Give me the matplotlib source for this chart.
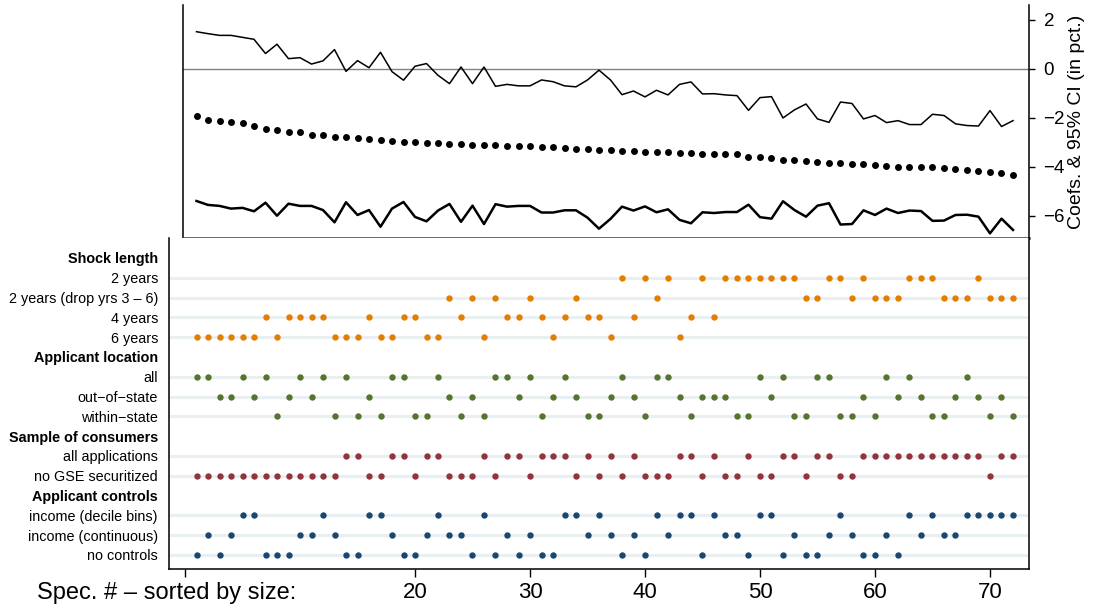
import numpy as np
import matplotlib.pyplot as plt

plt.rcParams['font.family'] = ['Liberation Sans', 'DejaVu Sans']

# specification curve: point estimates and 95% CI (in pct.)
spec = np.arange(1, 73)
coef = [-1.93, -2.07, -2.12, -2.18, -2.20, -2.33, -2.44, -2.49, -2.56, -2.57,
        -2.71, -2.71, -2.76, -2.79, -2.82, -2.84, -2.88, -2.93, -2.97, -2.99,
        -3.02, -3.02, -3.06, -3.08, -3.10, -3.12, -3.12, -3.13, -3.13, -3.14,
        -3.17, -3.20, -3.22, -3.25, -3.27, -3.29, -3.29, -3.33, -3.36, -3.37,
        -3.39, -3.40, -3.42, -3.44, -3.46, -3.47, -3.47, -3.47, -3.61, -3.61,
        -3.62, -3.70, -3.71, -3.74, -3.81, -3.82, -3.85, -3.86, -3.90, -3.93,
        -3.95, -3.99, -4.00, -4.00, -4.01, -4.03, -4.08, -4.12, -4.15, -4.20,
        -4.24, -4.34]
ci_hi = [1.52, 1.44, 1.37, 1.37, 1.29, 1.21, 0.63, 1.01, 0.42, 0.46,
         0.20, 0.33, 0.79, -0.10, 0.34, 0.05, 0.68, -0.11, -0.46, 0.11,
         0.22, -0.26, -0.60, 0.08, -0.60, 0.08, -0.71, -0.63, -0.69, -0.69,
         -0.45, -0.52, -0.69, -0.73, -0.45, -0.05, -0.45, -1.05, -0.90, -1.14,
         -0.87, -1.06, -0.63, -0.53, -1.02, -1.01, -1.06, -1.09, -1.69, -1.17,
         -1.13, -2.00, -1.67, -1.43, -2.04, -2.18, -1.35, -1.41, -2.04, -1.90,
         -2.19, -2.11, -2.27, -2.27, -1.85, -1.90, -2.24, -2.31, -2.33, -1.70,
         -2.35, -2.11]
ci_lo = [-5.39, -5.55, -5.59, -5.70, -5.67, -5.81, -5.46, -5.99, -5.50, -5.59,
         -5.59, -5.76, -6.26, -5.44, -5.96, -5.76, -6.44, -5.70, -5.43, -6.04,
         -6.22, -5.78, -5.51, -6.24, -5.58, -6.33, -5.52, -5.62, -5.59, -5.59,
         -5.86, -5.86, -5.77, -5.77, -6.07, -6.52, -6.12, -5.62, -5.78, -5.61,
         -5.85, -5.73, -6.16, -6.30, -5.85, -5.88, -5.84, -5.84, -5.54, -6.05,
         -6.11, -5.40, -5.76, -6.03, -5.58, -5.48, -6.35, -6.33, -5.77, -5.96,
         -5.70, -5.88, -5.78, -5.80, -6.20, -6.19, -5.96, -5.95, -6.03, -6.71,
         -6.11, -6.57]

# which specifications use which choice
shock_2y = [38, 40, 42, 45, 47, 48, 49, 50, 51, 52, 53, 56, 57, 59, 63, 64, 65, 69]
shock_2y_drop = [23, 25, 27, 30, 34, 41, 54, 55, 58, 60, 61, 62, 66, 67, 68, 70, 71, 72]
shock_4y = [7, 9, 10, 11, 12, 16, 19, 20, 24, 28, 29, 31, 33, 35, 36, 39, 44, 46]
shock_6y = [1, 2, 3, 4, 5, 6, 8, 13, 14, 15, 17, 18, 21, 22, 26, 32, 37, 43]

loc_all = [1, 2, 5, 7, 10, 12, 14, 18, 19, 22, 27, 28, 30, 33, 38, 41, 42, 50,
           52, 55, 56, 61, 63, 68]
loc_out = [3, 4, 6, 9, 11, 16, 23, 25, 29, 32, 34, 37, 39, 43, 45, 46, 47, 51,
           59, 62, 64, 67, 69, 71]
loc_within = [8, 13, 15, 17, 20, 21, 24, 26, 31, 35, 36, 40, 44, 48, 49, 53, 54,
              57, 58, 60, 65, 66, 70, 72]

sample_all = [14, 15, 18, 19, 21, 22, 26, 28, 29, 31, 32, 33, 35, 37, 39, 43, 44,
              46, 49, 52, 53, 55, 56, 59, 60, 61, 62, 63, 64, 65, 66, 67, 68, 69,
              71, 72]
sample_nogse = [1, 2, 3, 4, 5, 6, 7, 8, 9, 10, 11, 12, 13, 16, 17, 20, 23, 24, 25,
                27, 30, 34, 36, 38, 40, 41, 42, 45, 47, 48, 50, 51, 54, 57, 58, 70]

ctrl_decile = [5, 6, 12, 16, 17, 22, 26, 33, 34, 36, 41, 43, 44, 46, 50, 51, 57,
               63, 65, 68, 69, 70, 71, 72]
ctrl_cont = [2, 4, 10, 11, 13, 18, 21, 23, 24, 28, 30, 35, 37, 39, 42, 47, 48, 53,
             56, 58, 61, 64, 66, 67]
ctrl_none = [1, 3, 7, 8, 9, 14, 15, 19, 20, 25, 27, 29, 31, 32, 38, 40, 45, 49,
             52, 54, 55, 59, 60, 62]

groups = [
    ('Shock length', '#E37E00', [('2 years', shock_2y),
                                 ('2 years (drop yrs 3 \u2013 6)', shock_2y_drop),
                                 ('4 years', shock_4y),
                                 ('6 years', shock_6y)]),
    ('Applicant location', '#55752F', [('all', loc_all),
                                       ('out\u2212of\u2212state', loc_out),
                                       ('within\u2212state', loc_within)]),
    ('Sample of consumers', '#90353B', [('all applications', sample_all),
                                        ('no GSE securitized', sample_nogse)]),
    ('Applicant controls', '#1A476F', [('income (decile bins)', ctrl_decile),
                                       ('income (continuous)', ctrl_cont),
                                       ('no controls', ctrl_none)]),
]

W, H = 1094, 612
fig = plt.figure(figsize=(W / 100, H / 100), dpi=100)

def px2x(p):
    return (p - 196.5) / 11.5 + 1

# ---- top panel: coefficients ----
ax1 = fig.add_axes([183 / W, 1 - 238 / H, (1029 - 183) / W, (238 - 5) / H])
ax1.axhline(0, color='#808080', lw=1.0, zorder=1)
ax1.plot(spec, ci_hi, color='black', lw=1.1, zorder=2)
ax1.plot(spec, ci_lo, color='black', lw=1.8, zorder=2)
ax1.plot(spec, coef, 'o', color='black', ms=5, mec='none', zorder=3)
ax1.set_xlim(px2x(183), px2x(1029))
ax1.set_ylim(-6.9, 2.61)
ax1.set_xticks([])
ax1.yaxis.tick_right()
ax1.yaxis.set_label_position('right')
ax1.set_yticks([2, 0, -2, -4, -6])
ax1.tick_params(axis='y', length=4.5, width=1, pad=6, labelsize=13.5)
ax1.set_ylabel('Coefs. & 95% CI (in pct.)', fontsize=14, labelpad=2)
ax1.spines['top'].set_visible(False)
ax1.spines['bottom'].set_color('#1A476F')
ax1.spines['bottom'].set_linewidth(1.8)
for s in ['left', 'right']:
    ax1.spines[s].set_linewidth(1.1)

# ---- bottom panel: specification choices ----
ax2 = fig.add_axes([169 / W, 1 - 569 / H, (1029 - 169) / W, (569 - 238) / H])
labels, bold = [], []
row = 0
for head, color, opts in groups:
    labels.append(head)
    bold.append(True)
    row += 1
    for name, members in opts:
        ax2.axhline(row, color='#EAF0F2', lw=2.2, zorder=0)
        ax2.plot(members, [row] * len(members), 'o', color=color, ms=4.6,
                 mec='none', zorder=2)
        labels.append(name)
        bold.append(False)
        row += 1

ax2.set_xlim(px2x(169), px2x(1029))
ax2.set_ylim(15.71, -1.01)
ax2.set_yticks(range(len(labels)))
ax2.set_yticklabels(labels, fontsize=10.4)
for t, b in zip(ax2.get_yticklabels(), bold):
    if b:
        t.set_fontweight('bold')
ax2.tick_params(axis='y', length=0, pad=8)
ax2.set_xticks([0, 20, 30, 40, 50, 60, 70])
ax2.set_xticklabels(['', '20', '30', '40', '50', '60', '70'])
ax2.tick_params(axis='x', length=6, width=1, pad=3, labelsize=16)
ax2.spines['top'].set_visible(False)
for s in ['left', 'right', 'bottom']:
    ax2.spines[s].set_linewidth(1.1)

fig.text(37 / W, 1 - 593 / H, 'Spec. # \u2013 sorted by size:', fontsize=17,
         ha='left', va='center')

fig.savefig('out.png', dpi=100)
